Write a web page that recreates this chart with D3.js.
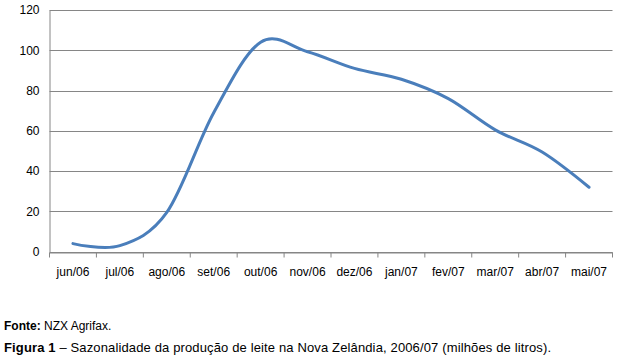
<!DOCTYPE html>
<html><head><meta charset="utf-8">
<script src="https://cdn.jsdelivr.net/npm/d3@7/dist/d3.min.js"></script>
<style>body{margin:0;background:#fff}svg{display:block}text{font-family:Arial,"Liberation Sans",sans-serif}</style>
</head><body><svg id="c" width="618" height="359"></svg>
<script>
const categories = ["jun/06","jul/06","ago/06","set/06","out/06","nov/06","dez/06","jan/07","fev/07","mar/07","abr/07","mai/07"];
const values = [4, 3, 19.5, 69, 104, 99.3, 91, 85.6, 76, 60.5, 49.5, 32];
const yTicks = [0,20,40,60,80,100,120];

const svg = d3.select("#c");
const x = d3.scaleBand().domain(categories).range([49.5, 612.5]);
const y = d3.scaleLinear().domain([0,120]).range([251.7, 10]);

svg.append("g").selectAll("line").data(yTicks).join("line")
  .attr("x1", 49.5).attr("x2", 612.5)
  .attr("y1", d => Math.round(y(d))+0.5).attr("y2", d => Math.round(y(d))+0.5)
  .attr("stroke", "#868686").attr("stroke-width", 1);

const yAxis = d3.axisLeft(y).tickValues(yTicks).tickSize(0).tickPadding(10);
const gy = svg.append("g").attr("transform","translate(49.5,0)").call(yAxis);
gy.select(".domain").attr("stroke","#868686");
gy.selectAll("text").attr("font-size",12).attr("fill","#000").attr("font-family","Arial, 'Liberation Sans', sans-serif");

const xAxis = d3.axisBottom(x).tickSizeOuter(0).tickSizeInner(5).tickPadding(10);
const gx = svg.append("g").attr("transform",`translate(0,${Math.round(y(0))+0.5})`).call(xAxis);
gx.select(".domain").attr("stroke","#868686");
gx.selectAll(".tick line").attr("stroke","#868686").attr("transform",`translate(${-x.bandwidth()/2},0)`);
gx.append("line").attr("x1",612.5).attr("x2",612.5).attr("y1",0).attr("y2",5).attr("stroke","#868686");
gx.selectAll("text").attr("font-size",12).attr("fill","#000").attr("font-family","Arial, 'Liberation Sans', sans-serif");

const line = d3.line()
  .x((d,i) => x(categories[i]) + x.bandwidth()/2)
  .y(d => y(d))
  .curve(d3.curveCardinal.tension(0));
svg.append("path").datum(values).attr("d", line)
  .attr("fill","none").attr("stroke","#4a7ebb").attr("stroke-width",3).attr("stroke-linecap","round");

const t1 = svg.append("text").attr("x",4).attr("y",330).attr("font-size",12).attr("fill","#000");
t1.append("tspan").attr("font-weight","bold").text("Fonte:");
t1.append("tspan").text(" NZX Agrifax.");
const t2 = svg.append("text").attr("x",4).attr("y",352).attr("font-size",13).attr("fill","#000")
  .attr("textLength",547).attr("lengthAdjust","spacing");
t2.append("tspan").attr("font-weight","bold").text("Figura 1");
t2.append("tspan").text(" – Sazonalidade da produção de leite na Nova Zelândia, 2006/07  (milhões de litros).");
</script></body></html>
